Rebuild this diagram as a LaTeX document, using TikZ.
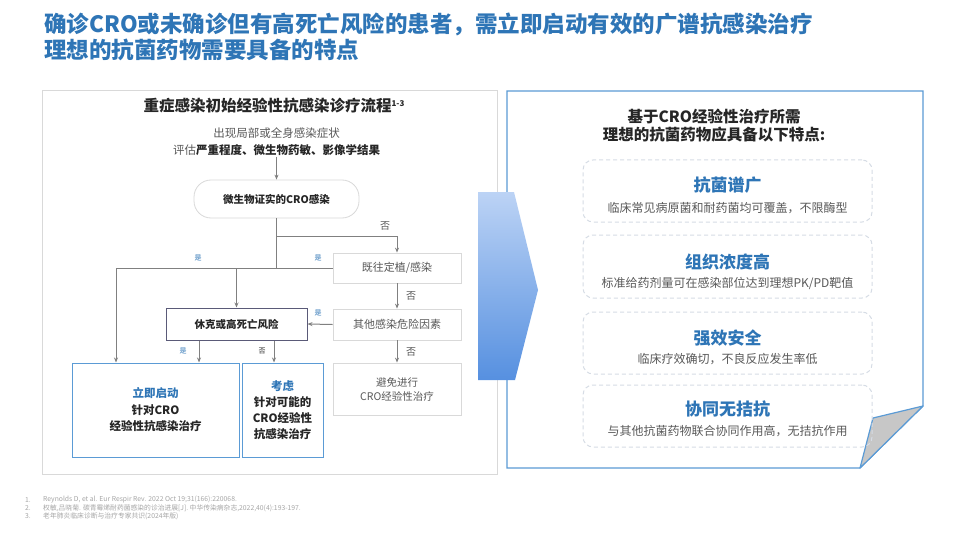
\documentclass[tikz,border=0pt]{standalone}
\usepackage{fontspec}
\setmainfont{Noto Sans CJK SC}
\usetikzlibrary{arrows.meta,calc}
\definecolor{tblue}{HTML}{2E75B6}
\definecolor{pbord}{HTML}{D9D9D9}
\definecolor{lineg}{HTML}{808080}
\definecolor{txtg}{HTML}{595959}
\definecolor{darkt}{HTML}{262626}
\definecolor{boxblue}{HTML}{5B9BD5}
\definecolor{dashg}{HTML}{D6DCE5}
\definecolor{arrtop}{HTML}{BCD3F5}
\definecolor{arrbot}{HTML}{5690E0}
\definecolor{xkbord}{HTML}{5A5A78}
\definecolor{foot}{HTML}{A6A6A6}
\tikzset{
  fs/.style={font=\fontsize{#1}{#1}\selectfont},
  flowbox/.style={draw=pbord, line width=0.8pt, fill=white, minimum width=128pt, text=txtg, fs=11, inner sep=2pt},
  ln/.style={draw=lineg, line width=1pt},
  arr/.style={ln, -{Stealth[length=5pt,width=4pt]}},
  yes/.style={text=tblue, fs=7, inner sep=0pt},
  no/.style={text=txtg, fs=10, inner sep=0pt},
  featbox/.style={draw=dashg, line width=1pt, dash pattern=on 4pt off 3pt, rounded corners=10pt, minimum width=289pt},
  feattitle/.style={text=tblue, font=\fontsize{17}{20}\selectfont\bfseries, inner sep=0pt},
  featsub/.style={text=txtg, fs=12, inner sep=0pt},
  footn/.style={text=foot, fs=6.8, inner sep=0pt, anchor=west}
}
\begin{document}
\begin{tikzpicture}[x=1pt,y=-1pt]
\useasboundingbox (0,0) rectangle (960,540);
\fill[white] (0,0) rectangle (960,540);
% main title
\node[anchor=west, text=tblue, inner sep=0pt, font=\fontsize{22.5}{25}\selectfont\bfseries] (t1) at (44,24) {确诊CRO或未确诊但有高死亡风险的患者，需立即启动有效的广谱抗感染治疗};
\node[anchor=west, text=tblue, inner sep=0pt, font=\fontsize{22.5}{25}\selectfont\bfseries] (t2) at (44,50) {理想的抗菌药物需要具备的特点};
% left panel
\draw[pbord, line width=0.8pt] (42,90) rectangle (497,474);
\node[text=darkt, inner sep=0pt, font=\fontsize{15.5}{18}\selectfont\bfseries] (lt) at (274,106) {重症感染初始经验性抗感染诊疗流程\raisebox{5pt}{\fontsize{8}{8}\selectfont 1-3}};
\node[align=center, text=txtg, inner sep=1pt, font=\fontsize{11.5}{17}\selectfont] (s1) at (276.5,141.5) {出现局部或全身感染症状\\评估\textbf{\color{darkt}严重程度、微生物药敏、影像学结果}};
\node[draw=pbord, line width=0.8pt, rounded corners=17pt, minimum width=165pt, minimum height=38pt, text=darkt, font=\fontsize{10.5}{12}\selectfont\bfseries] (cro) at (276.5,199) {微生物证实的CRO感染};
\node[flowbox, minimum height=30pt] (jw) at (397,268) {既往定植/感染};
\node[flowbox, minimum height=31pt] (qt) at (397,324.5) {其他感染危险因素};
\node[flowbox, minimum height=52pt, align=center, font=\fontsize{10.5}{14}\selectfont] (bm) at (397,389) {避免进行\\CRO经验性治疗};
\node[draw=xkbord, line width=1pt, minimum width=141pt, minimum height=32pt, text=darkt, font=\fontsize{10.5}{12}\selectfont\bfseries] (xk) at (236.5,324) {休克或高死亡风险};
\node[draw=boxblue, line width=1pt, minimum width=167pt, minimum height=94pt, align=center, text=darkt, font=\fontsize{11.5}{16.5}\selectfont\bfseries] (lj) at (155.5,410) {{\color{tblue}立即启动}\\针对CRO\\经验性抗感染治疗};
\node[draw=boxblue, line width=1pt, minimum width=81pt, minimum height=94pt, align=center, text=darkt, font=\fontsize{11.5}{16}\selectfont\bfseries] (kl) at (282.5,410) {{\color{tblue}考虑}\\针对可能的\\CRO经验性\\抗感染治疗};
% connectors
\draw[arr] (s1) -- (cro);
\coordinate (b1) at (276.5,236);
\coordinate (ja) at (116,268);
\draw[ln] (cro.south) -- (cro.south |- jw.west);
\draw[arr] (b1) -| (jw.north);
\draw[arr] (jw.west) -| (ja |- lj.north);
\draw[arr] (xk.north |- jw.west) -- (xk.north);
\draw[arr] (jw.south) -- (qt.north);
\draw[arr] (qt.west) -- (xk.east);
\draw[arr] (qt.south) -- (bm.north);
\draw[arr] ([xshift=-37.5pt]xk.south) -- ([xshift=-37.5pt]xk.south |- lj.north);
\draw[arr] ([xshift=37.5pt]xk.south) -- ([xshift=37.5pt]xk.south |- kl.north);
% labels
\node[no] (n1) at (385,226) {否};
\node[no] (n2) at (411,296) {否};
\node[no] (n3) at (411,352) {否};
\node[no, fs=7, text=darkt] (n4) at (262,351) {否};
\node[yes] (y1) at (198,258) {是};
\node[yes] (y2) at (318,258) {是};
\node[yes] (y3) at (318,313) {是};
\node[yes] (y4) at (183,351) {是};
% right panel
\draw[boxblue, line width=1.2pt, line join=miter] (507,91) -- (923,91) -- (923,406) -- (860,468) -- (507,468) -- cycle;
\filldraw[fill=black!22, draw=boxblue, line width=1.2pt, line join=round] (923,406) -- (873,418) -- (860,468) -- cycle;
\node[align=center, text=darkt, font=\fontsize{15.5}{17.5}\selectfont\bfseries] (rt) at (714,125.5) {基于CRO经验性治疗所需\\理想的抗菌药物应具备以下特点:};
\node[featbox, minimum height=62pt] (f1) at (727.5,191) {};
\node[featbox, minimum height=63pt] (f2) at (727.5,266.5) {};
\node[featbox, minimum height=62pt] (f3) at (727.5,343) {};
\node[featbox, minimum height=62pt] (f4) at (727.5,416) {};
\node[feattitle] (f1t) at (727.5,185) {抗菌谱广};
\node[featsub] (f1s) at (727.5,208) {临床常见病原菌和耐药菌均可覆盖，不限酶型};
\node[feattitle] (f2t) at (727.5,262) {组织浓度高};
\node[featsub] (f2s) at (727.5,283) {标准给药剂量可在感染部位达到理想PK/PD靶值};
\node[feattitle] (f3t) at (727.5,338) {强效安全};
\node[featsub] (f3s) at (727.5,359) {临床疗效确切，不良反应发生率低};
\node[feattitle] (f4t) at (727.5,409) {协同无拮抗};
\node[featsub] (f4s) at (727.5,431) {与其他抗菌药物联合协同作用高，无拮抗作用};
% big arrow
\shade[top color=arrtop, bottom color=arrbot] (478,192) -- (514,192) -- (538,290) -- (515,380) -- (478,380) -- cycle;
% footnotes
\node[footn] (fn1) at (25,500) {1.};
\node[footn] (fn2) at (25,508) {2.};
\node[footn] (fn3) at (25,516) {3.};
\node[footn] (fr1) at (43,500) {Reynolds D, et al. Eur Respir Rev. 2022 Oct 19;31(166):220068.};
\node[footn] (fr2) at (43,508) {权敏,吕晓菊. 碳青霉烯耐药菌感染的诊治进展[J]. 中华传染病杂志,2022,40(4):193-197.};
\node[footn] (fr3) at (43,516) {老年肺炎临床诊断与治疗专家共识(2024年版)};
\end{tikzpicture}
\end{document}
